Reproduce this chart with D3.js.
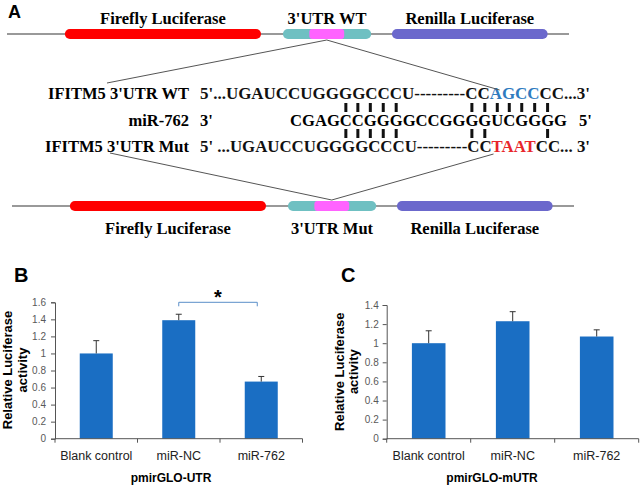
<!DOCTYPE html>
<html>
<head>
<meta charset="utf-8">
<script src="https://cdn.jsdelivr.net/npm/d3@7"></script>
<style>
  body { margin: 0; background: #fff; }
  .serif { font-family: "Liberation Serif", "Times New Roman", serif; font-weight: bold; }
  .sans { font-family: "Liberation Sans", Arial, sans-serif; }
</style>
</head>
<body>
<svg id="fig" width="641" height="485"></svg>
<script>
// ---- panel A data ----
// construct pieces, in relative construct units (0..100)
var segNames = ["firefly", "utr", "seed", "renilla"];
var segStart = [10.3, 49.1, 53.8, 68.5];
var segEnd = [45.2, 64.8, 60.0, 96.2];
var topLabels = ["Firefly Luciferase", "3'UTR WT", "Renilla Luciferase"];
var bottomLabels = ["Firefly Luciferase", "3'UTR Mut", "Renilla Luciferase"];
var labelSegs = [0, 1, 3];

var rowLabels = ["IFITM5 3'UTR WT", "miR-762", "IFITM5 3'UTR Mut"];
var wtSeq = ["5'...UGAUCCUGGGGCCCU---------CC", "AGCC", "CC...3'"];
var mirSeq = ["3'", "CGAGCCGGGGCCGGGGUCGGGG", "5'"];
var mutSeq = ["5' ...UGAUCCUGGGGCCCU---------CC", "TAAT", "CC... 3'"];
// miR positions that pair with the UTR above / below
var pairsWT = [4, 5, 6, 7, 8, 14, 15, 16, 17, 18, 19, 20];
var pairsMut = [4, 5, 6, 7, 8, 14, 15, 20];

// ---- panel B / C data ----
var categories = ["Blank control", "miR-NC", "miR-762"];
var utrValues = [1.0, 1.39, 0.67];
var utrErrors = [0.15, 0.07, 0.06];
var mutrValues = [1.0, 1.23, 1.07];
var mutrErrors = [0.13, 0.10, 0.07];
var utrTicks = [0, 0.2, 0.4, 0.6, 0.8, 1, 1.2, 1.4, 1.6];
var utrTickLabels = ["0", "0.2", "0.4", "0.6", "0.8", "1", "1.2", "1.4", "1.6"];
var mutrTicks = [0, 0.2, 0.4, 0.6, 0.8, 1, 1.2, 1.4];
var mutrTickLabels = ["0", "0.2", "0.4", "0.6", "0.8", "1", "1.2", "1.4"];
var sigPair = ["miR-NC", "miR-762"];

var svg = d3.select("#fig");
var segColor = {firefly: "#ff0000", utr: "#6fc0c2", seed: "#ff63ff", renilla: "#6b68cc"};
var segments = segNames.map(function(n, i) { return {name: n, start: segStart[i], end: segEnd[i]}; });

// panel letter
svg.append("text").attr("class", "sans").attr("x", 8).attr("y", 18)
  .style("font-size", "18px").style("font-weight", "bold").text("A");

function drawConstruct(xs, cy, labels, labelY) {
  var g = svg.append("g");
  g.append("line")
    .attr("x1", xs(0)).attr("x2", xs(100)).attr("y1", cy).attr("y2", cy)
    .attr("stroke", "#777").attr("stroke-width", 1.3);
  g.selectAll("rect").data(segments).join("rect")
    .attr("x", function(d) { return xs(d.start); })
    .attr("width", function(d) { return xs(d.end) - xs(d.start); })
    .attr("y", cy - 5).attr("height", 10)
    .attr("rx", function(d) { return d.name == "seed" ? 3 : 5; })
    .attr("fill", function(d) { return segColor[d.name]; });
  g.selectAll("text").data(labels).join("text")
    .attr("class", "serif")
    .attr("x", function(d, i) { var s = segments[labelSegs[i]]; return xs((s.start + s.end) / 2); })
    .attr("y", labelY)
    .attr("text-anchor", "middle")
    .style("font-size", "16.5px")
    .text(function(d) { return d; });
  var seed = segments[2];
  return xs((seed.start + seed.end) / 2);
}

var xTop = d3.scaleLinear().domain([0, 100]).range([7, 569]);
var xBot = d3.scaleLinear().domain([0, 100]).range([12, 574]);
var apexTopX = drawConstruct(xTop, 34, topLabels, 24);
var apexBotX = drawConstruct(xBot, 206, bottomLabels, 234);

// sequence alignment
var rowY = [99, 126, 152];
var seqG = svg.append("g").attr("class", "serif").style("font-size", "16.5px");
var labelTexts = rowLabels.map(function(t, i) {
  return seqG.append("text").attr("x", 189).attr("y", rowY[i]).attr("text-anchor", "end").text(t);
});

function seqRow(parts, y, hiColor) {
  var t = seqG.append("text").attr("x", 200).attr("y", y)
    .attr("textLength", 390).attr("lengthAdjust", "spacingAndGlyphs");
  parts.forEach(function(p, i) {
    t.append("tspan").attr("fill", i == 1 ? hiColor : "#111").text(p);
  });
  return t;
}
var wtText = seqRow(wtSeq, rowY[0], "#2f7bbf");
var mutText = seqRow(mutSeq, rowY[2], "#e8262b");

seqG.append("text").attr("x", 200).attr("y", rowY[1]).text(mirSeq[0]);
var mirText = seqG.append("text").attr("x", 290).attr("y", rowY[1])
  .attr("textLength", 277).attr("lengthAdjust", "spacingAndGlyphs").text(mirSeq[1]);
seqG.append("text").attr("x", 579).attr("y", rowY[1]).text(mirSeq[2]);

function charCenter(t, i) {
  var e = t.node().getExtentOfChar(i);
  return e.x + e.width / 2;
}
function drawPairs(idx, y0) {
  seqG.append("g").selectAll("rect").data(idx).join("rect")
    .attr("x", function(d) { return charCenter(mirText, d) - 1.5; })
    .attr("y", y0).attr("width", 3).attr("height", 9).attr("fill", "#111");
}
drawPairs(pairsWT, rowY[0] + 4);
drawPairs(pairsMut, rowY[1] + 3);

// connecting lines
var lineG = svg.append("g").attr("stroke", "#555").attr("stroke-width", 1);
var wtLabelX = labelTexts[0].node().getStartPositionOfChar(7).x;
var mutLabelX = labelTexts[2].node().getStartPositionOfChar(7).x;
var wtHiX = wtText.node().getStartPositionOfChar(wtSeq[0].length).x;
var mutHiX = mutText.node().getStartPositionOfChar(mutSeq[0].length).x;
lineG.append("line").attr("x1", apexTopX).attr("y1", 40).attr("x2", wtLabelX - 3).attr("y2", 83);
lineG.append("line").attr("x1", apexTopX).attr("y1", 40).attr("x2", wtHiX + 10).attr("y2", 90);
lineG.append("line").attr("x1", apexBotX).attr("y1", 200).attr("x2", mutLabelX + 3).attr("y2", 153);
lineG.append("line").attr("x1", apexBotX).attr("y1", 200).attr("x2", mutHiX + 2).attr("y2", 154);

// ---- bar charts ----
function barChart(o) {
  var g = svg.append("g").attr("class", "sans");
  var x = d3.scaleBand().domain(categories).range([o.x0, o.x1]).paddingInner(0.6).paddingOuter(0.3);
  var y = d3.scaleLinear().domain([0, o.ticks[o.ticks.length - 1]]).range([o.yBase, o.yTop]);
  var step = x.step();

  g.selectAll("rect.bar").data(o.values).join("rect")
    .attr("class", "bar")
    .attr("x", function(d, i) { return x(categories[i]); })
    .attr("width", x.bandwidth())
    .attr("y", function(d) { return y(d); })
    .attr("height", function(d) { return y(0) - y(d); })
    .attr("fill", "#1a6ec3");

  // error bars
  var eg = g.append("g").attr("stroke", "#333").attr("stroke-width", 1);
  o.values.forEach(function(v, i) {
    var cx = x(categories[i]) + x.bandwidth() / 2;
    eg.append("line").attr("x1", cx).attr("x2", cx).attr("y1", y(v)).attr("y2", y(v + o.errors[i]));
    eg.append("line").attr("x1", cx - 3).attr("x2", cx + 3).attr("y1", y(v + o.errors[i])).attr("y2", y(v + o.errors[i]));
  });

  // y axis
  var ya = g.append("g").attr("transform", "translate(" + o.x0 + ",0)")
    .call(d3.axisLeft(y).tickValues(o.ticks).tickSize(4).tickPadding(o.pad)
      .tickFormat(function(d, i) { return o.tickLabels[i]; }));
  ya.select(".domain").attr("stroke", "#555");
  ya.selectAll(".tick line").attr("stroke", "#555");
  ya.selectAll("text").attr("fill", "#595959").style("font-size", "10px").style("font-family", null);

  // x axis: line, ticks between categories, labels centered
  var xa = g.append("g").attr("transform", "translate(0," + o.yBase + ")")
    .call(d3.axisBottom(x).tickSize(0).tickPadding(12));
  xa.select(".domain").attr("stroke", "#555").attr("d", "M" + o.x0 + ",0H" + o.x1);
  xa.selectAll("text").attr("fill", "#222").style("font-size", "12.5px").style("font-family", null);
  xa.selectAll("line.bound").data(d3.range(categories.length + 1)).join("line")
    .attr("class", "bound")
    .attr("x1", function(d) { return o.x0 + d * step; })
    .attr("x2", function(d) { return o.x0 + d * step; })
    .attr("y1", 0).attr("y2", 4).attr("stroke", "#555");

  g.append("text").attr("x", o.titleX).attr("y", 482).attr("text-anchor", "middle")
    .style("font-size", "12px").style("font-weight", "bold").text(o.xTitle);

  var yt = g.append("g").attr("transform", "translate(0," + o.titleY + ")")
    .style("font-size", "13px").style("font-weight", "bold");
  yt.append("text").attr("transform", "translate(" + o.yt1 + ",0) rotate(-90)")
    .attr("text-anchor", "middle").text("Relative Luciferase");
  yt.append("text").attr("transform", "translate(" + o.yt2 + ",0) rotate(-90)")
    .attr("text-anchor", "middle").text("activity");

  g.append("text").attr("x", o.letterX).attr("y", 282)
    .style("font-size", "20px").style("font-weight", "bold").text(o.letter);

  return {x: x, y: y, g: g};
}

var B = barChart({
  values: utrValues, errors: utrErrors, ticks: utrTicks, tickLabels: utrTickLabels,
  x0: 55, x1: 302.5, yBase: 438.7, yTop: 302.3, pad: 5,
  xTitle: "pmirGLO-UTR", titleX: 171, titleY: 370, yt1: 12, yt2: 26.5,
  letter: "B", letterX: 14
});

// significance bracket
var bx1 = B.x(sigPair[0]) + B.x.bandwidth() / 2;
var bx2 = B.x(sigPair[1]) + B.x.bandwidth() / 2 - 4;
var by = B.y(1.6);
B.g.append("path")
  .attr("d", "M" + bx1 + "," + (by + 4) + "V" + by + "H" + bx2 + "V" + (by + 4))
  .attr("fill", "none").attr("stroke", "#5b8fc9").attr("stroke-width", 1);
B.g.append("text").attr("x", (bx1 + bx2) / 2).attr("y", by + 2).attr("text-anchor", "middle")
  .style("font-size", "20px").style("font-weight", "bold").text("*");

barChart({
  values: mutrValues, errors: mutrErrors, ticks: mutrTicks, tickLabels: mutrTickLabels,
  x0: 386.7, x1: 638.7, yBase: 438.7, yTop: 305, pad: 4,
  xTitle: "pmirGLO-mUTR", titleX: 492, titleY: 371.7, yt1: 343.5, yt2: 358,
  letter: "C", letterX: 341
});
</script>
</body>
</html>
